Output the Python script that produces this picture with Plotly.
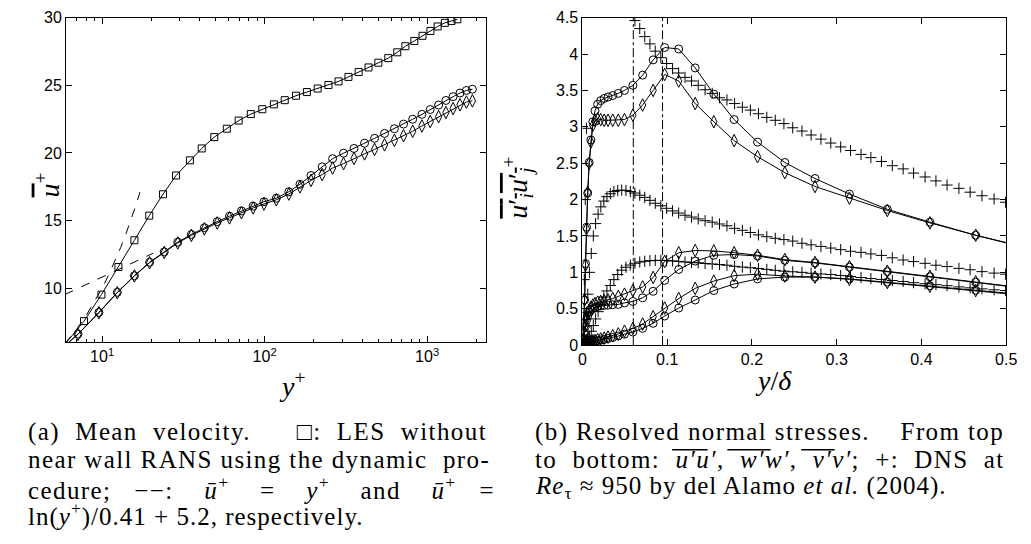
import math
import plotly.graph_objects as go

# ---------------- LEFT PANEL DATA (mean velocity) ----------------
yplus_sq = [5.5, 7.74, 9.9, 12.6, 15.8, 19.5, 23.7, 28.5, 34.7, 41.0, 49.0, 58.5, 69.2, 82.2, 96.8,
            114, 133, 156, 182, 212, 247, 285, 328, 379, 436, 501, 577, 655, 735, 834, 937,
            1048, 1161, 1286, 1412, 1536]
u_sq = [5.4, 7.56, 9.52, 11.56, 13.54, 15.36, 16.94, 18.33, 19.45, 20.33, 21.17, 21.79, 22.39, 22.87,
        23.23, 23.59, 23.90, 24.23, 24.50, 24.76, 25.02, 25.29, 25.62, 25.98, 26.32, 26.67, 27.01,
        27.44, 27.89, 28.28, 28.66, 29.02, 29.35, 29.62, 29.76, 29.88]

yplus_cd = [5.6, 7.1, 9.55, 12.4, 15.8, 19.6, 24.1, 29.2, 35.4, 42.6, 51.1, 60.8, 72.0, 85.0, 99.1,
            118, 141, 165, 193, 226, 262, 306, 355, 412, 475, 547, 629, 716, 815, 929, 1045,
            1177, 1305, 1445, 1594, 1746, 1900]
u_circ = [5.5, 6.60, 8.20, 9.69, 10.92, 11.91, 12.68, 13.40, 13.97, 14.47, 14.92, 15.32, 15.71, 16.06,
          16.39, 16.65, 17.13, 17.68, 18.33, 18.97, 19.57, 19.98, 20.33, 20.72, 21.08, 21.44, 21.79,
          22.13, 22.49, 22.85, 23.21, 23.54, 23.88, 24.16, 24.43, 24.62, 24.71]
u_diam = [5.5, 6.58, 8.18, 9.66, 10.90, 11.88, 12.64, 13.34, 13.90, 14.38, 14.82, 15.20, 15.58, 15.93,
          16.22, 16.53, 16.96, 17.49, 17.97, 18.40, 18.88, 19.21, 19.59, 19.93, 20.26, 20.60, 20.93,
          21.27, 21.60, 21.99, 22.32, 22.68, 22.99, 23.28, 23.56, 23.76, 23.85]

yplus_visc = [5.9, 7.0, 8.0, 9.0, 10.0, 11.0, 12.0, 13.0, 14.0, 15.0, 16.0, 17.1]
u_visc = [5.9, 7.0, 8.0, 9.0, 10.0, 11.0, 12.0, 13.0, 14.0, 15.0, 16.0, 17.1]
yplus_log = [5.9, 20.6]
u_log = [9.53, 12.58]

vlines_left = [120, 189]

left_xtick_vals = [10, 100, 1000]
left_xtick_text = ["10<sup>1</sup>", "10<sup>2</sup>", "10<sup>3</sup>"]
left_xminor_vals = [7, 8, 9, 20, 30, 40, 50, 60, 70, 80, 90, 200, 300, 400, 500, 600, 700, 800, 900, 2000]
left_ytick_vals = [10, 15, 20, 25, 30]
left_ytick_text = ["10", "15", "20", "25", "30"]

# ---------------- RIGHT PANEL DATA (normal stresses) ----------------
ydelta_les = [0.0005, 0.0015, 0.0025, 0.0036, 0.0048, 0.0062, 0.0079, 0.0099, 0.0122, 0.0148, 0.0179,
              0.0215, 0.0256, 0.0302, 0.0357, 0.0423, 0.0496, 0.0595, 0.071, 0.0834, 0.097, 0.1136,
              0.133, 0.155, 0.179, 0.2066, 0.2388, 0.2744, 0.315, 0.3597, 0.41, 0.464, 0.525]
uu_circ = [0.08, 0.3, 0.62, 1.12, 1.62, 2.09, 2.51, 2.82, 3.07, 3.22, 3.31, 3.36, 3.39, 3.41, 3.43, 3.46,
           3.50, 3.57, 3.71, 3.92, 4.09, 4.07, 3.81, 3.45, 3.10, 2.79, 2.51, 2.29, 2.076, 1.867, 1.69,
           1.51, 1.33]
uu_diam = [0.08, 0.3, 0.62, 1.1, 1.6, 2.1, 2.5, 2.79, 3.02, 3.09, 3.11, 3.10, 3.09, 3.09, 3.09, 3.09,
           3.10, 3.16, 3.30, 3.50, 3.72, 3.63, 3.32, 3.07, 2.81, 2.59, 2.37, 2.18, 2.02, 1.85, 1.68,
           1.51, 1.34]
ww_circ = [0.02, 0.08, 0.17, 0.26, 0.34, 0.40, 0.45, 0.48, 0.50, 0.52, 0.53, 0.54, 0.545, 0.55, 0.555,
           0.56, 0.58, 0.60, 0.65, 0.74, 0.89, 1.04, 1.155, 1.235, 1.245, 1.225, 1.165, 1.13, 1.072,
           1.01, 0.94, 0.865, 0.775]
ww_diam = [0.02, 0.08, 0.17, 0.27, 0.36, 0.43, 0.48, 0.52, 0.55, 0.57, 0.59, 0.60, 0.61, 0.62, 0.64,
           0.67, 0.70, 0.75, 0.80, 0.93, 1.15, 1.27, 1.30, 1.295, 1.27, 1.235, 1.175, 1.135, 1.078,
           1.015, 0.945, 0.87, 0.78]
vv_circ = [0.0, 0.002, 0.006, 0.012, 0.017, 0.025, 0.033, 0.042, 0.05, 0.055, 0.062, 0.07, 0.078, 0.09,
           0.105, 0.125, 0.15, 0.18, 0.23, 0.30, 0.40, 0.51, 0.62, 0.75, 0.84, 0.91, 0.935, 0.935,
           0.91, 0.865, 0.815, 0.755, 0.69]
vv_diam = [0.0, 0.003, 0.008, 0.015, 0.02, 0.03, 0.04, 0.05, 0.06, 0.065, 0.075, 0.085, 0.095, 0.11,
           0.13, 0.155, 0.19, 0.23, 0.29, 0.39, 0.51, 0.64, 0.78, 0.88, 0.955, 0.975, 0.95, 0.935,
           0.905, 0.86, 0.81, 0.75, 0.68]

ydelta_dns = [0.0006, 0.0013, 0.0022, 0.0033, 0.0047, 0.0063, 0.0082, 0.0104, 0.0128, 0.0155, 0.0185,
              0.0217, 0.0252, 0.0289, 0.0329, 0.0371, 0.0416, 0.0463, 0.0513, 0.0565, 0.0619, 0.0676,
              0.0735, 0.0796, 0.0859, 0.0925, 0.0993, 0.1063, 0.1135, 0.1210, 0.1287, 0.1366, 0.1447,
              0.1531, 0.1617, 0.1705, 0.1795, 0.1887, 0.1981, 0.2077, 0.2175, 0.2275, 0.2377, 0.2481,
              0.259, 0.2698, 0.2814, 0.293, 0.3047, 0.3163, 0.3287, 0.3403, 0.3528, 0.3656, 0.3784,
              0.3907, 0.4043, 0.4171, 0.4302, 0.4442, 0.4574, 0.4714, 0.4857, 0.4993]
uu_dns = [0.08, 0.35, 0.9, 2.0, 2.98, None, None, None, None, None, None, None, None, None, None,
          None, None, None, None, None, 4.46, 4.35, 4.24, 4.14, 4.04, 3.95, 3.87, 3.80, 3.74, 3.68,
          3.63, 3.57, 3.51, 3.46, 3.40, 3.37, 3.32, 3.27, 3.23, 3.18, 3.13, 3.09, 3.044, 2.987, 2.942,
          2.888, 2.831, 2.777, 2.724, 2.675, 2.621, 2.577, 2.524, 2.466, 2.422, 2.364, 2.311, 2.257,
          2.20, 2.155, 2.102, 2.053, 2.009, 1.964]
ww_dns = [0.02, 0.06, 0.14, 0.26, 0.45, 0.7, 1.0, 1.26, 1.5, 1.67, 1.8, 1.9, 1.98, 2.04, 2.08, 2.11,
          2.125, 2.13, 2.125, 2.11, 2.09, 2.06, 2.03, 1.99, 1.95, 1.915, 1.88, 1.845, 1.815, 1.785,
          1.76, 1.735, 1.71, 1.69, 1.665, 1.64, 1.605, 1.578, 1.548, 1.515, 1.49, 1.468, 1.45, 1.43,
          1.40, 1.378, 1.356, 1.334, 1.312, 1.29, 1.275, 1.253, 1.233, 1.20, 1.17, 1.148, 1.124,
          1.098, 1.08, 1.055, 1.036, 1.01, 0.99, 0.975]
vv_dns = [0.0, 0.005, 0.012, 0.025, 0.045, 0.075, 0.12, 0.19, 0.27, 0.36, 0.46, 0.56, 0.66, 0.745,
          0.82, 0.90, 0.97, 1.03, 1.07, 1.10, 1.125, 1.142, 1.152, 1.16, 1.164, 1.165, 1.162, 1.157,
          1.151, 1.143, 1.137, 1.132, 1.122, 1.115, 1.107, 1.098, 1.083, 1.073, 1.064, 1.054, 1.041,
          1.028, 1.016, 1.008, 1.0, 0.988, 0.978, 0.97, 0.956, 0.943, 0.929, 0.915, 0.903, 0.888,
          0.875, 0.858, 0.844, 0.831, 0.817, 0.80, 0.787, 0.773, 0.76, 0.75]

vlines_right = [0.06, 0.0945]

right_xtick_vals = [0, 0.1, 0.2, 0.3, 0.4, 0.5]
right_xtick_text = ["0", "0.1", "0.2", "0.3", "0.4", "0.5"]
right_ytick_vals = [0, 0.5, 1, 1.5, 2, 2.5, 3, 3.5, 4, 4.5]
right_ytick_text = ["0", "0.5", "1", "1.5", "2", "2.5", "3", "3.5", "4", "4.5"]

# ---------------- TEXT ----------------
NB = "\u00a0"
UBAR = "<i>\u016b</i><sup>+</sup>"


def ov(s):
    return "<span style='text-decoration:overline;font-style:italic'>" + s + "</span>"


def ls(s, sp):
    return "<span style='letter-spacing:" + str(sp) + "px'>" + s + "</span>"


caption_a = [
    "(a)" + NB * 2 + "Mean" + NB * 2 + "velocity." + NB * 6 + "\u25a1:" + NB * 2 + "LES" + NB * 2 + "without",
    "near wall RANS using the dynamic" + NB * 2 + "pro-",
    "cedure;" + NB * 3 + "\u2212\u2212:" + NB * 4 + UBAR + NB * 4 + "=" + NB * 4
    + "<i>y</i><sup>+</sup>" + NB * 4 + "and" + NB * 4 + UBAR + NB * 3 + "=",
    "ln(<i>y</i><sup>+</sup>)/0.41 + 5.2, respectively.",
]
caption_b = [
    "(b) Resolved normal stresses." + NB * 4 + "From top",
    "to" + NB * 2 + "bottom:" + NB * 2 + "<i>u′u′</i>," + NB * 2 + "<i>w′w′</i>," + NB * 2 + "<i>v′v′</i>;"
    + NB * 2 + "+:" + NB * 2 + "DNS" + NB * 2 + "at",
    "<i>Re</i><sub>τ</sub> ≈ 950 by del Alamo <i>et al.</i> (2004).",
]
caption_spacing = [1.4, 1.4, 1.4, 1.0]
# horizontal pixel spans of the overlines above u'u', w'w', v'v' in caption (b)
overline_spans = [(678, 714), (734, 778), (809, 843)]
overline_row = 456

W, H = 1031, 544
SERIF = "Liberation Serif, Times New Roman, serif"
SANS = "Liberation Sans, Arial, sans-serif"

fig = go.Figure()


def add(x, y, symbol, size, xa, ya, mode="lines+markers", dash=None):
    fig.add_trace(go.Scatter(
        x=x, y=y, mode=mode, xaxis=xa, yaxis=ya, showlegend=False, cliponaxis=True,
        line=dict(color="black", width=1, dash=dash),
        marker=dict(symbol=symbol, size=size, color="black", line=dict(color="black", width=1)),
    ))


# left panel
add(yplus_visc, u_visc, None, 1, "x", "y", mode="lines", dash="dash")
add(yplus_log, u_log, None, 1, "x", "y", mode="lines", dash="dash")
add(yplus_sq, u_sq, "square-open", 7, "x", "y")
add(yplus_cd, u_circ, "circle-open", 8, "x", "y")
add(yplus_cd, u_diam, "diamond-tall-open", 9, "x", "y")

# right panel
add(ydelta_dns, uu_dns, "cross-thin-open", 8, "x2", "y2", mode="markers")
add(ydelta_dns, ww_dns, "cross-thin-open", 8, "x2", "y2", mode="markers")
add(ydelta_dns, vv_dns, "cross-thin-open", 8, "x2", "y2", mode="markers")
for vals, sym, sz in [(uu_circ, "circle-open", 8), (uu_diam, "diamond-tall-open", 9),
                      (ww_circ, "circle-open", 8), (ww_diam, "diamond-tall-open", 9),
                      (vv_circ, "circle-open", 8), (vv_diam, "diamond-tall-open", 9)]:
    add(ydelta_les, vals, sym, sz, "x2", "y2")

shapes = []
for v in vlines_left:
    shapes.append(dict(type="line", xref="x", yref="y domain", x0=math.log10(v), x1=math.log10(v),
                       y0=0, y1=1, line=dict(color="black", width=1, dash="dashdot")))
for v in vlines_right:
    shapes.append(dict(type="line", xref="x2", yref="y2 domain", x0=v, x1=v, y0=0, y1=1,
                       line=dict(color="black", width=1, dash="dashdot")))

line_y = [438, 466, 495, 523]
for (a, b) in overline_spans:
    shapes.append(dict(type="line", xref="paper", yref="paper", x0=a / W, x1=b / W,
                       y0=1 - overline_row / H, y1=1 - overline_row / H,
                       line=dict(color="black", width=1.6)))

axis_common = dict(showline=True, linecolor="black", linewidth=1, mirror="ticks", ticks="inside",
                   ticklen=6, tickcolor="black", showgrid=False, zeroline=False,
                   tickfont=dict(family=SANS, size=16, color="black"))

annotations = []
# axis titles
annotations.append(dict(text="<i>y</i><sup>+</sup>", x=277 / W, y=1 - 389 / H, xref="paper", yref="paper",
                        yanchor="middle", showarrow=False, font=dict(family=SERIF, size=28, color="black")))
annotations.append(dict(text="<i>y</i>/<i>δ</i>", x=802 / W, y=1 - 385 / H, xref="paper", yref="paper",
                        yanchor="middle", showarrow=False, font=dict(family=SERIF, size=28, color="black")))
annotations.append(dict(text=ov("u") + "<sup>+</sup>", x=24 / W, y=1 - 168 / H, xref="paper",
                        yref="paper", textangle=-90, showarrow=False,
                        font=dict(family=SERIF, size=28, color="black")))
annotations.append(dict(text="<span style='text-decoration:overline'><i>u</i>′<sub><i>i</i></sub><i>u</i>′<sub><i>j</i></sub></span><sup>+</sup>",
                        x=521 / W, y=1 - 185 / H, xref="paper", yref="paper", textangle=-90,
                        showarrow=False, font=dict(family=SERIF, size=28, color="black")))
# captions
for i, t in enumerate(caption_a):
    annotations.append(dict(text=ls(t, caption_spacing[i]), x=22 / W, y=1 - line_y[i] / H,
                            xref="paper", yref="paper", xanchor="left", yanchor="middle",
                            showarrow=False, font=dict(family=SERIF, size=25, color="black")))
for i, t in enumerate(caption_b):
    sp = caption_spacing[i] if i < 2 else 1.0
    annotations.append(dict(text=ls(t, sp), x=537 / W, y=1 - line_y[i] / H, xref="paper",
                            yref="paper", xanchor="left", yanchor="middle", showarrow=False,
                            font=dict(family=SERIF, size=25, color="black")))

fig.update_layout(
    width=W, height=H, autosize=False, margin=dict(l=0, r=0, t=0, b=0),
    paper_bgcolor="white", plot_bgcolor="white", showlegend=False,
    shapes=shapes, annotations=annotations,
    xaxis=dict(axis_common, type="log", domain=[63 / W, 489 / W], anchor="y",
               range=[math.log10(6), math.log10(2300)], tickmode="array",
               tickvals=left_xtick_vals, ticktext=left_xtick_text,
               minor=dict(ticks="inside", ticklen=3, tickcolor="black", tickmode="array",
                          tickvals=left_xminor_vals, showgrid=False)),
    yaxis=dict(axis_common, domain=[1 - 345 / H, 1 - 10 / H], anchor="x", range=[6, 30],
               tickmode="array", tickvals=left_ytick_vals, ticktext=left_ytick_text),
    xaxis2=dict(axis_common, domain=[587 / W, 1017 / W], anchor="y2", range=[0, 0.5],
                tickmode="array", tickvals=right_xtick_vals, ticktext=right_xtick_text),
    yaxis2=dict(axis_common, domain=[1 - 348 / H, 1 - 10 / H], anchor="x2", range=[0, 4.5],
                tickmode="array", tickvals=right_ytick_vals, ticktext=right_ytick_text),
)

fig.write_html("out.html", config={"displayModeBar": False},
               post_script="document.body.style.margin='0';document.body.style.overflow='hidden';")
